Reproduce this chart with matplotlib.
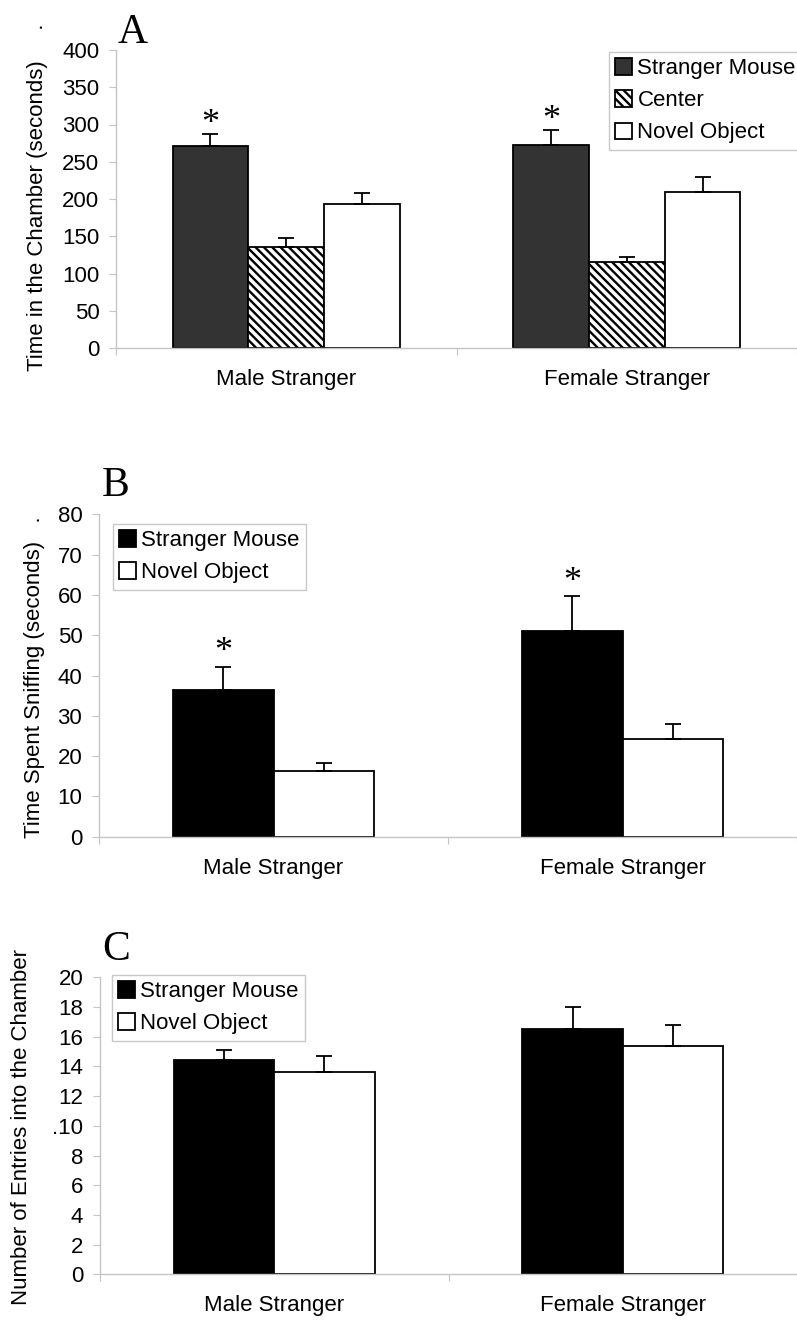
import matplotlib
matplotlib.use("Agg")
import matplotlib.pyplot as plt
import numpy as np

plt.rcParams['font.family'] = ['Liberation Sans', 'DejaVu Sans']
plt.rcParams['hatch.linewidth'] = 1.7

W, H, DPI = 797, 1320, 100

groups = ["Male Stranger", "Female Stranger"]

# panel A: time in the chamber (seconds)
a_labels = ["Stranger Mouse", "Center", "Novel Object"]
a_mean = [[271, 136, 193], [273, 116, 210]]
a_err = [[16, 11, 15], [19, 6, 19]]
a_star = [True, False, False]

# panel B: time spent sniffing (seconds)
b_labels = ["Stranger Mouse", "Novel Object"]
b_mean = [[36.4, 16.4], [51.0, 24.3]]
b_err = [[5.8, 2.0], [8.7, 3.7]]
b_star = [True, False]

# panel C: number of entries into the chamber
c_labels = ["Stranger Mouse", "Novel Object"]
c_mean = [[14.4, 13.6], [16.5, 15.4]]
c_err = [[0.7, 1.1], [1.5, 1.4]]

GREY = "#c4c4c4"


def add_axes(fig, left, top, bottom, right=W):
    return fig.add_axes([left / W, 1 - bottom / H, (right - left) / W, (bottom - top) / H])


def draw_panel(ax, means, errs, labels, colors, hatches, width, ymax, yticks,
               ytlabels=None, stars=None, star_off=15, cat_px=346, leg_xy=None):
    n = len(labels)
    offs = (np.arange(n) - (n - 1) / 2) * width
    means = np.array(means)
    errs = np.array(errs)
    x = np.arange(len(groups))
    for i in range(n):
        ax.bar(x + offs[i], means[:, i], width, color=colors[i], edgecolor="black",
               linewidth=1.3, hatch=hatches[i], label=labels[i], zorder=2)
        ax.errorbar(x + offs[i], means[:, i], yerr=[np.zeros(len(x)), errs[:, i]],
                    fmt="none", ecolor="black", elinewidth=1.3, capsize=6, capthick=1.3, zorder=3)
        if stars is not None and stars[i]:
            for g in range(len(x)):
                ax.annotate("*", (x[g] + offs[i], means[g, i] + errs[g, i]),
                            xytext=(0, star_off), textcoords="offset pixels",
                            ha="center", va="center", fontsize=26, family="Liberation Serif")

    ax.set_ylim(0, ymax)
    ax.set_xlim(-0.5, -0.5 + (W - ax.get_position().x0 * W) / cat_px)
    ax.set_yticks(yticks)
    if ytlabels is not None:
        ax.set_yticklabels(ytlabels)
    ax.set_xticks([-0.5, 0.5, 1.5])
    ax.set_xticklabels([])
    ax.set_xticks(x, minor=True)
    ax.set_xticklabels(groups, minor=True)
    ax.tick_params(axis="x", which="minor", length=0, pad=15, labelsize=16)
    ax.tick_params(axis="x", which="major", length=5, color=GREY, direction="out")
    ax.tick_params(axis="y", length=5, color=GREY, direction="out", pad=7, labelsize=16)
    for s in ["top", "right"]:
        ax.spines[s].set_visible(False)
    for s in ["left", "bottom"]:
        ax.spines[s].set_color(GREY)
        ax.spines[s].set_linewidth(1.0)

    leg = ax.legend(loc="upper left", bbox_to_anchor=(leg_xy[0] / W, 1 - leg_xy[1] / H),
                    bbox_transform=fig.transFigure, borderaxespad=0, fontsize=16,
                    fancybox=False, framealpha=1, edgecolor="#c8c8c8",
                    handlelength=0.75, handleheight=0.75, handletextpad=0.25,
                    labelspacing=0.5, borderpad=0.28)
    leg.get_frame().set_linewidth(1.0)


fig = plt.figure(figsize=(W / DPI, H / DPI), dpi=DPI)

axA = add_axes(fig, 116, 50, 348)
draw_panel(axA, a_mean, a_err, a_labels, ["#333333", "white", "white"], [None, "\\\\\\\\", None],
           77 / 346, 400, np.arange(0, 401, 50), stars=a_star, star_off=10, cat_px=346,
           leg_xy=(609, 52))

axB = add_axes(fig, 99, 514.3, 836.7)
draw_panel(axB, b_mean, b_err, b_labels, ["black", "white"], [None, None],
           102 / 354, 80, np.arange(0, 81, 10), stars=b_star, star_off=14, cat_px=354,
           leg_xy=(113, 524))

axC = add_axes(fig, 100, 977.3, 1274.3)
c_ticks = np.arange(0, 21, 2)
c_ticklabels = [str(t) if t != 10 else ".10" for t in c_ticks]
draw_panel(axC, c_mean, c_err, c_labels, ["black", "white"], [None, None],
           102 / 354, 20, c_ticks, ytlabels=c_ticklabels, cat_px=354,
           leg_xy=(112, 975))

# y labels
fig.text(38 / W, 1 - 371 / H, "Time in the Chamber (seconds)     .", rotation=90,
         ha="center", va="bottom", fontsize=16)
fig.text(35 / W, 1 - 838 / H, "Time Spent Sniffing (seconds)   .", rotation=90,
         ha="center", va="bottom", fontsize=16)
fig.text(22 / W, 1 - 1127 / H, "Number of Entries into the Chamber", rotation=90,
         ha="center", va="center", fontsize=16)

# panel letters
for letter, px, py in [("A", 118, 43), ("B", 102, 496), ("C", 102, 960)]:
    fig.text(px / W, 1 - py / H, letter, fontsize=30, family="Liberation Serif",
             ha="left", va="baseline")

fig.savefig("out.png", dpi=DPI)
